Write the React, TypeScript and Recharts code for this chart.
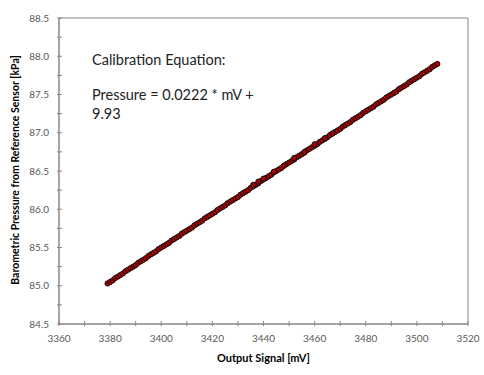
import React from 'react';
import { ComposedChart, Scatter, Line, XAxis, YAxis, ReferenceArea } from 'recharts';

const signalMv = [
  3379, 3380, 3381, 3382, 3383, 3384, 3385, 3386, 3387, 3388, 3389, 3390, 3391, 3392, 3393, 3394, 3395, 3396, 3397, 3398,
  3399, 3400, 3401, 3402, 3403, 3404, 3405, 3406, 3407, 3408, 3409, 3410, 3411, 3412, 3413, 3414, 3415, 3416, 3417, 3418,
  3419, 3420, 3421, 3422, 3423, 3424, 3425, 3426, 3427, 3428, 3429, 3430, 3431, 3432, 3433, 3434, 3435, 3436, 3437, 3438,
  3439, 3440, 3441, 3442, 3443, 3444, 3445, 3446, 3447, 3448, 3449, 3450, 3451, 3452, 3453, 3454, 3455, 3456, 3457, 3458,
  3459, 3460, 3461, 3462, 3463, 3464, 3465, 3466, 3467, 3468, 3469, 3470, 3471, 3472, 3473, 3474, 3475, 3476, 3477, 3478,
  3479, 3480, 3481, 3482, 3483, 3484, 3485, 3486, 3487, 3488, 3489, 3490, 3491, 3492, 3493, 3494, 3495, 3496, 3497, 3498,
  3499, 3500, 3501, 3502, 3503, 3504, 3505, 3506, 3507, 3508,
  3436, 3438, 3440, 3444, 3448, 3452, 3456, 3460, 3464, 3467,
];
const pressureKpa = [
  85.03, 85.05, 85.07, 85.10, 85.12, 85.14, 85.16, 85.19, 85.21, 85.23, 85.25, 85.27, 85.30, 85.32, 85.34, 85.36, 85.39, 85.41, 85.43, 85.45,
  85.48, 85.50, 85.52, 85.54, 85.56, 85.59, 85.61, 85.63, 85.65, 85.68, 85.70, 85.72, 85.74, 85.76, 85.79, 85.81, 85.83, 85.85, 85.88, 85.90,
  85.92, 85.94, 85.96, 85.99, 86.01, 86.03, 86.05, 86.08, 86.10, 86.12, 86.14, 86.16, 86.19, 86.21, 86.23, 86.25, 86.28, 86.30, 86.32, 86.34,
  86.37, 86.39, 86.41, 86.43, 86.45, 86.48, 86.50, 86.52, 86.54, 86.57, 86.59, 86.61, 86.63, 86.65, 86.68, 86.70, 86.72, 86.74, 86.77, 86.79,
  86.81, 86.83, 86.85, 86.88, 86.90, 86.92, 86.94, 86.97, 86.99, 87.01, 87.03, 87.05, 87.08, 87.10, 87.12, 87.14, 87.17, 87.19, 87.21, 87.23,
  87.26, 87.28, 87.30, 87.32, 87.34, 87.37, 87.39, 87.41, 87.43, 87.46, 87.48, 87.50, 87.52, 87.54, 87.57, 87.59, 87.61, 87.63, 87.66, 87.68,
  87.70, 87.72, 87.74, 87.77, 87.79, 87.81, 87.83, 87.86, 87.88, 87.90,
  86.32, 86.36, 86.40, 86.49, 86.57, 86.67, 86.75, 86.85, 86.93, 86.99,
];
const fitMv = [3379, 3508];
const fitKpa = [85.03, 87.9];
const xTicks = [3360, 3370, 3380, 3390, 3400, 3410, 3420, 3430, 3440, 3450, 3460, 3470, 3480, 3490, 3500, 3510, 3520];
const yTicks = [84.5, 84.75, 85.0, 85.25, 85.5, 85.75, 86.0, 86.25, 86.5, 86.75, 87.0, 87.25, 87.5, 87.75, 88.0, 88.25, 88.5];

const points = signalMv.map((x, i) => ({ x, y: pressureKpa[i] }));
const fit = fitMv.map((x, i) => ({ x, y: fitKpa[i] }));

const AXIS = '#868686';
const TICK_TEXT = '#595959';
const FONT = 'Lato, "Open Sans", sans-serif';

const XTick = (props: any) => {
  const { x, y, payload } = props;
  const v = payload.value;
  const show = v % 20 === 0;
  return (
    <g>
      <line x1={x} x2={x} y1={y - 3} y2={y + 2} stroke={AXIS} strokeWidth={1} />
      {show && (
        <text x={x} y={y + 18} textAnchor="middle" fill={TICK_TEXT} fontSize={10} fontFamily={FONT}>
          {v}
        </text>
      )}
    </g>
  );
};

const YTick = (props: any) => {
  const { x, y, payload } = props;
  const v = payload.value;
  const show = Math.abs(v * 2 - Math.round(v * 2)) < 1e-6;
  return (
    <g>
      <line x1={x - 2} x2={x + 3} y1={y} y2={y} stroke={AXIS} strokeWidth={1} />
      {show && (
        <text x={x - 10} y={y + 3.5} textAnchor="end" fill={TICK_TEXT} fontSize={10} fontFamily={FONT}>
          {v.toFixed(1)}
        </text>
      )}
    </g>
  );
};

const Marker = (props: any) => {
  const { cx, cy } = props;
  return <circle cx={cx} cy={cy} r={2.6} fill="#b00000" stroke="#111" strokeWidth={1} />;
};

export default function App() {
  return (
    <div style={{ position: 'absolute', left: 0, top: 0, width: 484, height: 375, background: '#fff' }}>
      <ComposedChart width={484} height={375} margin={{ top: 18, right: 16, bottom: 0, left: 0 }}>
        <XAxis
          dataKey="x"
          type="number"
          domain={[3360, 3520]}
          ticks={xTicks}
          interval={0}
          tickSize={0}
          tickMargin={0}
          tickLine={false}
          stroke={AXIS}
          height={51}
          tick={<XTick />}
          allowDataOverflow
        />
        <YAxis
          dataKey="y"
          type="number"
          domain={[84.5, 88.5]}
          ticks={yTicks}
          interval={0}
          tickSize={0}
          tickMargin={0}
          tickLine={false}
          stroke={AXIS}
          width={59}
          tick={<YTick />}
          allowDataOverflow
        />
        <ReferenceArea x1={3360} x2={3520} y1={84.5} y2={88.5} fill="none" stroke={AXIS} strokeWidth={1} ifOverflow="visible" />
        <Scatter data={points} dataKey="y" shape={<Marker />} isAnimationActive={false} />
        <Line data={fit} dataKey="y" stroke="#e00000" strokeWidth={1.6} dot={false} isAnimationActive={false} />
      </ComposedChart>
      <div style={{ position: 'absolute', left: 0, top: 350, width: 527, textAlign: 'center', fontFamily: FONT, fontWeight: 700, fontSize: 11, color: '#000', lineHeight: '16px' }}>
        Output Signal [mV]
      </div>
      <div style={{ position: 'absolute', left: 15, top: 170, width: 0, height: 0 }}>
        <div style={{ position: 'absolute', left: 0, top: 0, transform: 'translate(-50%, -50%) rotate(-90deg)', whiteSpace: 'nowrap', fontFamily: FONT, fontWeight: 700, fontSize: 10.5, color: '#000' }}>
          Barometric Pressure from Reference Sensor [kPa]
        </div>
      </div>
      <div style={{ position: 'absolute', left: 92, top: 50, fontFamily: FONT, fontSize: 14.5, color: '#222', lineHeight: '19px', whiteSpace: 'nowrap' }}>
        Calibration Equation:
      </div>
      <div style={{ position: 'absolute', left: 92, top: 85, fontFamily: FONT, fontSize: 14.5, color: '#222', lineHeight: '19px', whiteSpace: 'nowrap' }}>
        Pressure = 0.0222 * mV +
      </div>
      <div style={{ position: 'absolute', left: 92, top: 104, fontFamily: FONT, fontSize: 14.5, color: '#222', lineHeight: '19px', whiteSpace: 'nowrap' }}>
        9.93
      </div>
    </div>
  );
}
